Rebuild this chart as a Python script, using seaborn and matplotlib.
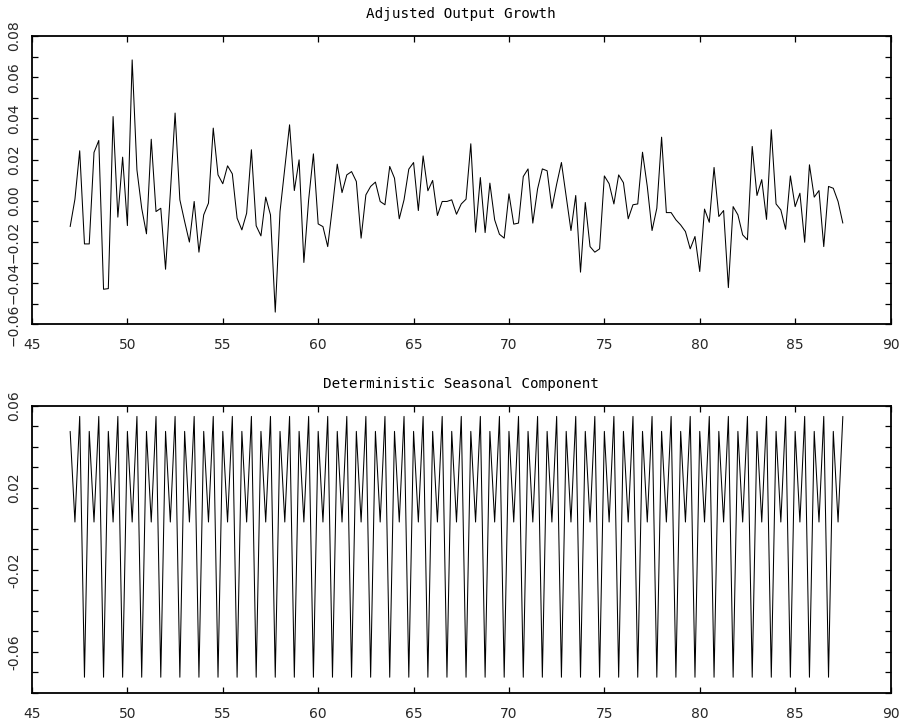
import numpy as np
import pandas as pd
import matplotlib
matplotlib.use("Agg")
import matplotlib.pyplot as plt
from matplotlib.ticker import MultipleLocator, FixedLocator, FixedFormatter
import seaborn as sns

# ---------------- data ----------------
start_year = 47          # first observation: 1947 Q1, quarterly through 1987 Q3
growth = [
    -0.0125, 0.0008, 0.0243, -0.0209, -0.0209, 0.0235, 0.0293, -0.0429,
    -0.0426, 0.0409, -0.0079, 0.0212, -0.0120, 0.0684, 0.0150, -0.0036,
    -0.0160, 0.0299, -0.0052, -0.0036, -0.0332, 0.0037, 0.0426, 0.0005,
    -0.0100, -0.0200, -0.0003, -0.0249, -0.0068, -0.0011, 0.0353, 0.0126,
    0.0083, 0.0170, 0.0131, -0.0084, -0.0141, -0.0060, 0.0248, -0.0121,
    -0.0170, 0.0018, -0.0068, -0.0540, -0.0052, 0.0159, 0.0369, 0.0050,
    0.0199, -0.0299, 0.0005, 0.0228, -0.0112, -0.0125, -0.0222, -0.0028,
    0.0178, 0.0040, 0.0126, 0.0142, 0.0094, -0.0181, 0.0029, 0.0070,
    0.0091, -0.0003, -0.0019, 0.0167, 0.0110, -0.0087, 0.0005, 0.0154,
    0.0186, -0.0047, 0.0218, 0.0049, 0.0099, -0.0071, -0.0003, -0.0003,
    0.0005, -0.0065, -0.0015, 0.0008, 0.0277, -0.0152, 0.0113, -0.0154,
    0.0086, -0.0092, -0.0162, -0.0181, 0.0034, -0.0113, -0.0108, 0.0118,
    0.0155, -0.0108, 0.0058, 0.0155, 0.0146, -0.0036, 0.0081, 0.0186,
    0.0021, -0.0144, 0.0026, -0.0346, -0.0008, -0.0222, -0.0249, -0.0233,
    0.0121, 0.0083, -0.0015, 0.0126, 0.0088, -0.0087, -0.0019, -0.0015,
    0.0236, 0.0070, -0.0144, -0.0036, 0.0309, -0.0057, -0.0057, -0.0092,
    -0.0117, -0.0149, -0.0233, -0.0173, -0.0343, -0.0040, -0.0104, 0.0162,
    -0.0076, -0.0047, -0.0421, -0.0028, -0.0068, -0.0165, -0.0189, 0.0264,
    0.0026, 0.0103, -0.0090, 0.0345, -0.0015, -0.0044, -0.0138, 0.0121,
    -0.0028, 0.0037, -0.0201, 0.0175, 0.0018, 0.0050, -0.0222, 0.0070,
    0.0061, -0.0003, -0.0108,
]
# seasonal effect for Q1, Q2, Q3, Q4
quarter_effects = [0.0476, 0.0034, 0.0549, -0.0723]

x_ticks = [45, 50, 55, 60, 65, 70, 75, 80, 85, 90]
top_yticks = [-0.06, -0.04, -0.02, 0.00, 0.02, 0.04, 0.06, 0.08]
top_ylabels = ["\u22120.06", "\u22120.04", "\u22120.02", "0.00", "0.02", "0.04", "0.06", "0.08"]
bot_yticks = [-0.06, -0.02, 0.02, 0.06]
bot_ylabels = ["-0.06", "-0.02", "0.02", "0.06"]

n = len(growth)
quarter_idx = np.arange(n) % 4
time = start_year + np.arange(n) / 4.0
df = pd.DataFrame({
    "time": time,
    "growth": growth,
    "seasonal": [quarter_effects[q] for q in quarter_idx],
})

# ---------------- style ----------------
sns.set_theme(style="ticks")
plt.rcParams["font.family"] = ["DejaVu Sans"]
plt.rcParams["axes.linewidth"] = 1.3
plt.rcParams["axes.edgecolor"] = "black"

fig = plt.figure(figsize=(9.04, 7.23), dpi=100)
ax1 = fig.add_axes([0.0354, 0.5512, 0.9497, 0.3990])
ax2 = fig.add_axes([0.0354, 0.0415, 0.9497, 0.3970])

sns.lineplot(data=df, x="time", y="growth", ax=ax1, color="black",
             linewidth=0.75, estimator=None)
sns.lineplot(data=df, x="time", y="seasonal", ax=ax2, color="black",
             linewidth=0.75, estimator=None)

title_font = dict(family="DejaVu Sans Mono", size=10.3, color="black")
ax1.set_title("Adjusted Output Growth", pad=13, fontdict=title_font)
ax2.set_title("Deterministic Seasonal Component", pad=13, fontdict=title_font)

for ax in (ax1, ax2):
    ax.set_xlim(45, 90)
    ax.set_xlabel("")
    ax.set_ylabel("")
    ax.xaxis.set_major_locator(FixedLocator(x_ticks))
    ax.set_xticklabels([str(v) for v in x_ticks])
    ax.yaxis.set_minor_locator(MultipleLocator(0.01))
    for s in ax.spines.values():
        s.set_visible(True)
        s.set_color("black")
        s.set_linewidth(1.3)
    ax.tick_params(axis="both", which="both", direction="in", top=True,
                   right=True, color="black", width=0.9)
    ax.tick_params(axis="x", which="major", length=4, labelsize=10, pad=10)
    ax.tick_params(axis="y", which="major", length=4, labelsize=10, pad=8)
    ax.tick_params(axis="y", which="minor", length=4)
    ax.set_facecolor("white")

ax1.set_ylim(-0.06, 0.08)
ax1.yaxis.set_major_locator(FixedLocator(top_yticks))
ax1.yaxis.set_major_formatter(FixedFormatter(top_ylabels))

ax2.set_ylim(-0.08, 0.06)
ax2.yaxis.set_major_locator(FixedLocator(bot_yticks))
ax2.yaxis.set_major_formatter(FixedFormatter(bot_ylabels))

for ax in (ax1, ax2):
    for lab in ax.get_yticklabels():
        lab.set_rotation(90)
        lab.set_va("center")

fig.savefig("out.png", dpi=100, facecolor="white")
